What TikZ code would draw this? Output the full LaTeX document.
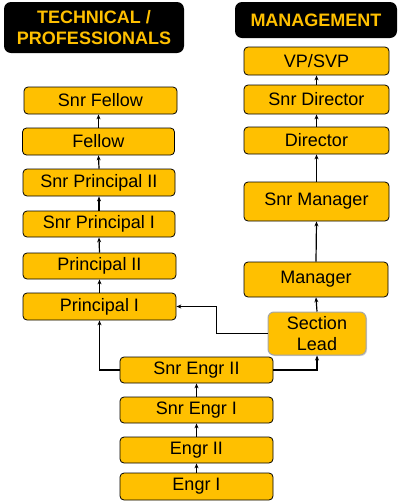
\documentclass[tikz,border=0pt]{standalone}
\usepackage{fontspec}
\setmainfont{Liberation Sans}
\usetikzlibrary{arrows.meta,shadows}
\definecolor{gold}{HTML}{FFC000}
\definecolor{edgegray}{HTML}{A6A6A6}
\tikzset{
  box/.style={draw=black, line width=0.8pt, fill=gold, rounded corners=4pt, inner sep=0pt, font=\fontsize{18}{20}\selectfont, text=black},
  lead/.style={draw=edgegray, line width=1pt, fill=gold, rounded corners=6pt, inner sep=0pt, font=\fontsize{18}{21}\selectfont, align=center, drop shadow={shadow xshift=1pt, shadow yshift=-1pt, opacity=0.3}},
  head/.style={fill=black, rounded corners=7pt, inner sep=0pt, text=gold, font=\bfseries\fontsize{18}{21}\selectfont, align=center},
  conn/.style={line width=1.2pt, -{Stealth[length=5pt,width=4pt]}}
}
\begin{document}
\begin{tikzpicture}[x=1pt,y=-1pt]
\useasboundingbox (0,0) rectangle (401,504);
% headers
\node[head, minimum width=180, minimum height=51] (tech) at (94,27.5) {TECHNICAL /\\PROFESSIONALS};
\node[head, minimum width=162, minimum height=36] (mgmt) at (316,20) {MANAGEMENT};
% left column
\node[box, minimum width=153, minimum height=27] (sfellow) at (100.5,100.5) {Snr Fellow};
\node[box, minimum width=152, minimum height=27] (fellow) at (98.5,141.5) {Fellow};
\node[box, minimum width=152, minimum height=27] (sp2) at (99,182.5) {Snr Principal II};
\node[box, minimum width=152, minimum height=26] (sp1) at (99,224) {Snr Principal I};
\node[box, minimum width=153, minimum height=26] (p2) at (99.5,266) {Principal II};
\node[box, minimum width=153, minimum height=27] (p1) at (99.5,306.5) {Principal I};
% right column
\node[box, minimum width=145, minimum height=28] (vp) at (316.5,61) {VP/SVP};
\node[box, minimum width=145, minimum height=29] (sdir) at (316.5,99.5) {Snr Director};
\node[box, minimum width=145, minimum height=27] (dir) at (316.5,140.5) {Director};
\node[box, minimum width=145, minimum height=39] (smgr) at (316.5,201.5) {Snr Manager};
\node[box, minimum width=144, minimum height=35] (mgr) at (316,279.5) {Manager};
\node[lead, minimum width=98, minimum height=43] (sl) at (317,333.5) {Section\\Lead};
% bottom column
\node[box, minimum width=153, minimum height=26] (se2) at (196.5,370) {Snr Engr II};
\node[box, minimum width=153, minimum height=26] (se1) at (196.5,410) {Snr Engr I};
\node[box, minimum width=153, minimum height=26] (e2) at (196.5,450) {Engr II};
\node[box, minimum width=153, minimum height=27] (e1) at (196.5,486.5) {Engr I};
% connectors
\draw[conn] (e1.north) -- (e2.south);
\draw[conn] (e2.north) -- (se1.south);
\draw[conn] (se1.north) -- (se2.south);
\draw[conn] (se2.west) -| (p1.south);
\draw[conn] (se2.east) -| (sl.south);
\draw[conn] (sl.west) -- ++(-51,0) |- (p1.east);
\draw[conn] (sl.north) -- (mgr.south);
\draw[conn] (mgr.north) -- (smgr.south);
\draw[conn] (smgr.north) -- (dir.south);
\draw[conn] (dir.north) -- (sdir.south);
\draw[conn] (sdir.north) -- (vp.south);
\draw[conn] (p1.north) -- (p2.south);
\draw[conn] (p2.north) -- (sp1.south);
\draw[conn] (sp1.north) -- (sp2.south);
\draw[conn] (sp2.north) -- (fellow.south);
\draw[conn] (fellow.north) -- (sfellow.south-|fellow.north);
\end{tikzpicture}
\end{document}
